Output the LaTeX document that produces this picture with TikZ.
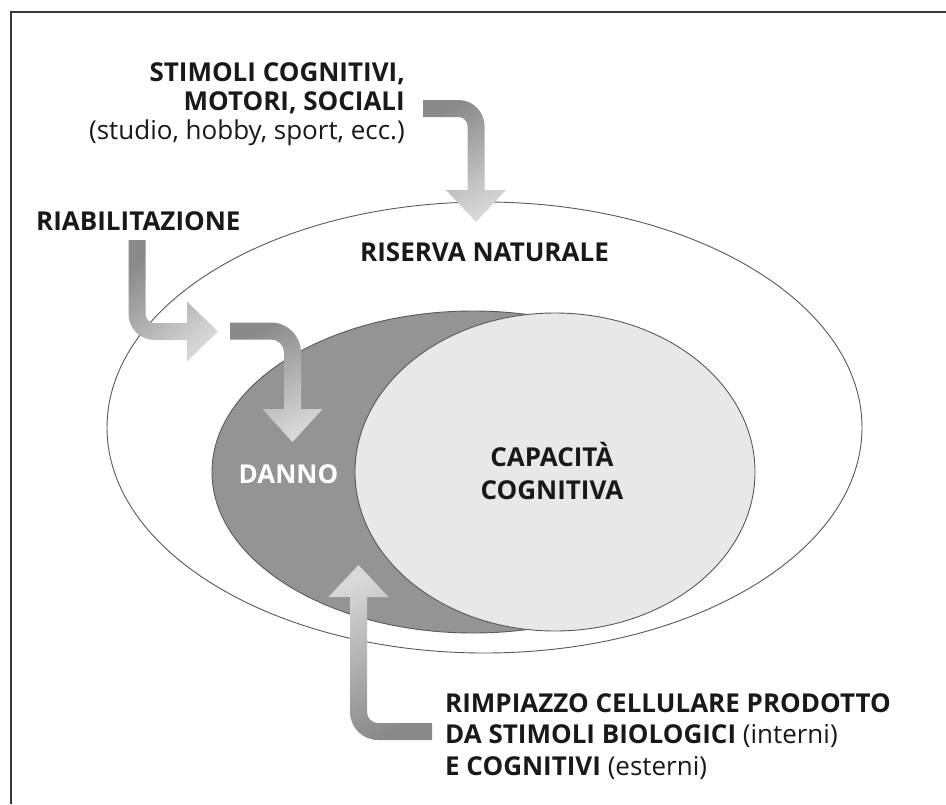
\documentclass[tikz,border=0pt]{standalone}
\usepackage{fontspec}
\setmainfont{Open Sans}
\usetikzlibrary{shapes.geometric}

\begin{document}
\begin{tikzpicture}[
    x=1pt, y=1pt,
    area/.style={ellipse, inner sep=0pt, draw=black!65, line width=0.9pt},
    txt/.style={inner sep=0pt, text=black!90, font=\fontsize{26}{29}\selectfont\bfseries},
    garrow/.style={top color=black!46, bottom color=black!15, draw=none}
]

\useasboundingbox (0,0) rectangle (946,-804);

% frame
\draw[black!78, line width=2pt] (946,-12) -- (11,-12) -- (11,-804);

% Areas
\node[area, fill=white, minimum width=755pt, minimum height=451pt] (riserva) at (484.5,-427.5) {};
\node[area, fill=black!42, minimum width=522pt, minimum height=322pt] (danno) at (473,-472) {};
\node[area, fill=black!9, minimum width=400pt, minimum height=318pt] (capacita) at (555,-472) {};

% Arrows
\coordinate (stimA) at (423,-108.5);
\coordinate (riabA) at (137,-240);
\coordinate (riabB) at (230,-331);
\coordinate (rimpA) at (432,-731.5);

\shade[garrow, shading angle=25] ([yshift=8.5]stimA) -- ++(35.5,0)
    arc[start angle=90, end angle=0, radius=26] -- ++(0,-64) -- ++(21.5,0) -- ++(-30,-32)
    -- ++(-30,32) -- ++(21.5,0) -- ++(0,64) arc[start angle=0, end angle=90, radius=9]
    -- ++(-35.5,0) -- cycle;
\shade[garrow, shading angle=41] ([xshift=-8.5]riabA) -- ++(0,-74)
    arc[start angle=180, end angle=270, radius=26] -- ++(32.5,0) -- ++(0,-21.5) -- ++(31,30)
    -- ++(-31,30) -- ++(0,-21.5) -- ++(-32.5,0) arc[start angle=270, end angle=180, radius=9]
    -- ++(0,74) -- cycle;
\shade[garrow, shading angle=29] ([yshift=8.5]riabB) -- ++(41,0)
    arc[start angle=90, end angle=0, radius=30] -- ++(0,-56.5) -- ++(21.5,0) -- ++(-30,-33)
    -- ++(-30,33) -- ++(21.5,0) -- ++(0,56.5) arc[start angle=0, end angle=90, radius=13]
    -- ++(-41,0) -- cycle;
\shade[garrow, shading angle=204] ([yshift=-8.5]rimpA) -- ++(-54,0)
    arc[start angle=270, end angle=180, radius=28] -- ++(0,115) -- ++(-21.5,0) -- ++(30,32)
    -- ++(30,-32) -- ++(-21.5,0) -- ++(0,-115) arc[start angle=180, end angle=270, radius=11]
    -- ++(54,0) -- cycle;

% Labels
\node[txt, anchor=north east, align=right] (stimoli) at (405,-62) {
    STIMOLI COGNITIVI,\\
    MOTORI, SOCIALI\\
    \mdseries (studio, hobby, sport, ecc.)
};
\node[txt, anchor=base west] (riab) at (36,-230) {RIABILITAZIONE};
\node[txt, anchor=base] (riservalbl) at (484.5,-261) {RISERVA NATURALE};
\node[txt, anchor=base, text=white] (dannolbl) at (288.5,-483) {DANNO};
\node[txt, anchor=south, align=center, font=\fontsize{26}{33}\selectfont\bfseries] (caplbl) at (552,-500) {
    CAPACITÀ\\
    COGNITIVA
};
\node[txt, anchor=north west, align=left, font=\fontsize{26}{31.5}\selectfont\bfseries] (rimpiazzo) at (445,-693) {
    RIMPIAZZO CELLULARE PRODOTTO\\
    DA STIMOLI BIOLOGICI {\mdseries (interni)}\\
    E COGNITIVI {\mdseries (esterni)}
};

\end{tikzpicture}
\end{document}
